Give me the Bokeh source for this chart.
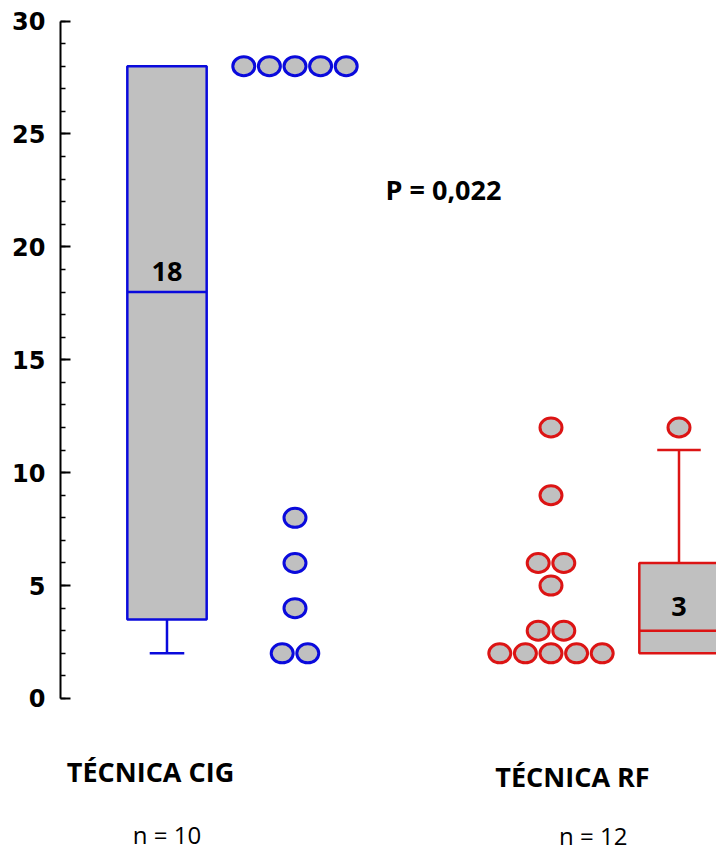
from bokeh.plotting import figure
from bokeh.models import Range1d, FixedTicker
from bokeh.core.properties import value
from bokeh.embed import file_html
from bokeh.resources import INLINE

# ---- data ----
groups = ["TÉCNICA CIG", "TÉCNICA RF"]
n_labels = ["n = 10", "n = 12"]
cig_values = [28, 28, 28, 28, 28, 8, 6, 4, 2, 2]
rf_values = [12, 9, 6, 6, 5, 3, 3, 2, 2, 2, 2, 2]
box_q1 = [3.5, 2]
box_median = [18, 3]
box_q3 = [28, 6]
whisker_low = [2, 2]
whisker_high = [28, 11]
box_outliers = [[], [12]]
median_labels = ["18", "3"]
p_value_text = "P = 0,022"
y_ticks = [0, 5, 10, 15, 20, 25, 30]
y_minor_ticks = list(range(0, 31))

# ---- layout / style ----
box_x = [1, 5]
dots_x = [2, 4]
colors = ["#0A0ADC", "#DC1414"]
fill = "#C0C0C0"
box_half = 0.31
cap_half = [0.135, 0.17]
step = 0.2


def swarm(vals, center):
    counts = {}
    for v in vals:
        counts[v] = counts.get(v, 0) + 1
    seen = {}
    xs, ys = [], []
    for v in vals:
        i = seen.get(v, 0)
        seen[v] = i + 1
        n = counts[v]
        xs.append(center + (i - (n - 1) / 2) * step)
        ys.append(v)
    return xs, ys


p = figure(width=716, height=854,
           x_range=Range1d(0.168, 5.293), y_range=Range1d(-6.91, 30.91),
           x_axis_type=None, toolbar_location=None, output_backend="svg",
           min_border_left=60, min_border_right=0, min_border_top=0,
           min_border_bottom=0)
p.grid.visible = False
p.outline_line_color = None
p.background_fill_color = "white"

ax = p.yaxis[0]
ax.ticker = FixedTicker(ticks=y_ticks, minor_ticks=y_minor_ticks)
ax.bounds = (0, 30)
ax.major_tick_in = 10
ax.major_tick_out = 0
ax.minor_tick_in = 5
ax.minor_tick_out = 0
ax.axis_line_width = 2
ax.major_tick_line_width = 2
ax.minor_tick_line_width = 1.5
ax.axis_line_color = "black"
ax.major_tick_line_color = "black"
ax.minor_tick_line_color = "black"
ax.major_label_text_color = "black"
ax.major_label_text_font = "DejaVu Sans"
ax.major_label_text_font_style = "bold"
ax.major_label_text_font_size = "24px"
ax.major_label_standoff = 15

lw = 2.5
# boxes
for i in range(2):
    c = colors[i]
    bx = box_x[i]
    if whisker_low[i] < box_q1[i]:
        p.segment(x0=[bx], y0=[box_q1[i]], x1=[bx], y1=[whisker_low[i]], line_color=c, line_width=lw)
        p.segment(x0=[bx - cap_half[i]], y0=[whisker_low[i]], x1=[bx + cap_half[i]], y1=[whisker_low[i]], line_color=c, line_width=lw)
    if whisker_high[i] > box_q3[i]:
        p.segment(x0=[bx], y0=[box_q3[i]], x1=[bx], y1=[whisker_high[i]], line_color=c, line_width=lw)
        p.segment(x0=[bx - cap_half[i]], y0=[whisker_high[i]], x1=[bx + cap_half[i]], y1=[whisker_high[i]], line_color=c, line_width=lw)
    p.quad(left=[bx - box_half], right=[bx + box_half], bottom=[box_q1[i]], top=[box_q3[i]],
           fill_color=fill, line_color=c, line_width=lw)
    p.segment(x0=[bx - box_half], y0=[box_median[i]], x1=[bx + box_half], y1=[box_median[i]], line_color=c, line_width=lw)
    if box_outliers[i]:
        p.ellipse(x=[bx] * len(box_outliers[i]), y=box_outliers[i], width=22, height=19,
                  width_units="screen", height_units="screen",
                  fill_color=fill, line_color=c, line_width=3)

# dots
for i, vals in enumerate([cig_values, rf_values]):
    xs, ys = swarm(vals, dots_x[i])
    p.ellipse(x=xs, y=ys, width=22, height=19, width_units="screen", height_units="screen",
              fill_color=fill, line_color=colors[i], line_width=3)

bold = dict(text_font=value("Open Sans"), text_font_style="bold", text_font_size="27px",
            text_align="center", text_baseline="middle", text_color="black")

# median labels
p.text(x=[box_x[0], box_x[1]], y=[18.93, 4.06], text=median_labels, **bold)
# p value
p.text(x=[3.16], y=[22.55], text=[p_value_text], **bold)
# group labels
p.text(x=[0.871, 4.168], y=[-3.23, -3.45], text=groups, **bold)
p.text(x=[1.0, 4.33], y=[-6.02, -6.08], text=n_labels,
       text_font=value("Open Sans"), text_font_size="24px",
       text_align="center", text_baseline="middle", text_color="black")

open("out.html", "w").write(file_html(p, INLINE))
